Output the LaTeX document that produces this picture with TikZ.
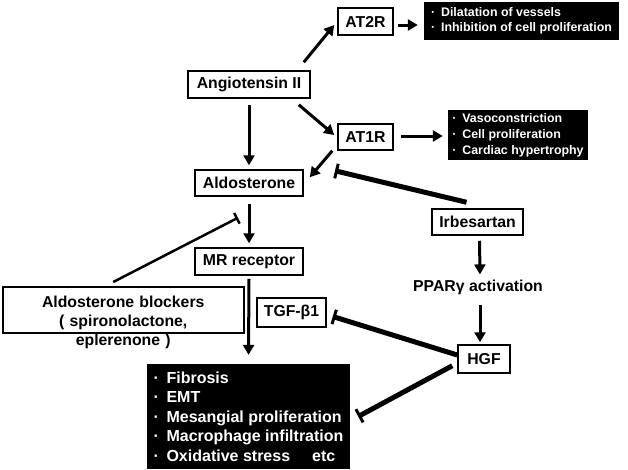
\documentclass[tikz,border=0pt]{standalone}
\usepackage{fontspec}
\setmainfont{Liberation Sans}
\usepackage{tikz}
\usetikzlibrary{arrows.meta, calc}

\newcommand{\blt}[1][10pt]{\makebox[#1][l]{\textperiodcentered}}

\begin{document}
\begin{tikzpicture}[x=1pt, y=-1pt,
	font=\fontsize{15.8}{19}\selectfont\bfseries,
	box/.style={draw, line width=1.5pt, inner sep=0pt},
	darkbox/.style={fill=black, text=white, inner sep=0pt, align=left, font=\fontsize{12.4}{15.5}\selectfont\bfseries},
	act/.style={line width=3pt, -{Triangle[length=10pt, width=11pt]}},
	inh/.style={line width=5pt, -{Bar[width=15pt, line width=3pt]}},
	inhthin/.style={line width=2.5pt, -{Bar[width=12pt, line width=2.5pt]}}]

	\useasboundingbox (0,0) rectangle (628,469);

	% framed boxes
	\node[box, minimum width=122pt, minimum height=27pt] (ang) at (249,84.5) {Angiotensin II};
	\node[box, minimum width=55pt, minimum height=27pt] (at2r) at (365.5,21.5) {AT2R};
	\node[box, minimum width=55pt, minimum height=26pt] (at1r) at (365.5,137) {AT1R};
	\node[box, minimum width=108pt, minimum height=26pt] (aldo) at (249,183) {Aldosterone};
	\node[box, minimum width=108pt, minimum height=27pt] (mr) at (249,261.5) {MR receptor};
	\node[box, minimum width=69pt, minimum height=29pt] (tgf) at (291.5,312.5) {TGF-β1};
	\node[box, minimum width=91pt, minimum height=26pt] (irb) at (477.5,222) {Irbesartan};
	\node[box, minimum width=52pt, minimum height=28pt] (hgf) at (484,359) {HGF};
	\node[box, anchor=north west, text width=241pt, align=center, text height=20.5pt, text depth=25.5pt] (blk) at (2,286)
		{Aldosterone blockers\\( spironolactone,\\eplerenone )};
	\node[inner sep=2pt] (ppar) at (478,287) {PPARγ activation};

	% black boxes
	\node[darkbox, minimum width=195pt, minimum height=38pt] (fx2) at (521.5,21)
		{\blt Dilatation of vessels\\\blt Inhibition of cell proliferation};
	\node[darkbox, font=\fontsize{12.4}{16}\selectfont\bfseries, minimum width=140pt, minimum height=50pt] (fx1) at (518,135)
		{\blt Vasoconstriction\\\blt Cell proliferation\\\blt Cardiac hypertrophy};
	\node[darkbox, font=\fontsize{16}{19.5}\selectfont\bfseries, minimum width=203pt, minimum height=105pt] (out) at (248.5,416.5)
		{\blt[13pt]Fibrosis\\\blt[13pt]EMT\\\blt[13pt]Mesangial proliferation\\\blt[13pt]Macrophage infiltration\\\blt[13pt]Oxidative stress\hspace{22pt}etc};

	% arrows
	\draw[act] ($(ang.north east)+(-7,-8)$) -- ($(at2r.west)+(-3,3.5)$);
	\draw[act] ($(ang.south east)+(-12,6)$) -- ($(at1r.west)+(-3,-2)$);
	\draw[act] ($(at2r.east)+(4,3.5)$) -- ($(fx2.west)+(-6,4)$);
	\draw[act] ($(at1r.east)+(7,-1)$) -- ($(fx1.west)+(-5,1)$);
	\draw[act] ($(ang.south)+(0,6)$) -- ($(aldo.north)+(0,-4)$);
	\draw[act] ($(aldo.south)+(0,7)$) -- ($(mr.north)+(0,-4)$);
	\draw[act] ($(mr.south)+(0,3)$) -- ($(out.north)+(0,-9)$);
	\draw[act] ($(at1r.south west)+(-5,0)$) -- ($(aldo.north east)+(6,8)$);
	\draw[act, shorten <=5pt, shorten >=3pt] ($(irb.south)+(2,0)$) -- ($(ppar.north)+(2,0)$);
	\draw[act, shorten <=8pt, shorten >=2pt] ($(ppar.south)+(2,0)$) -- ($(hgf.north)+(-4,0)$);

	% inhibitions
	\draw[inh] ($(irb.north)+(-11,-6)$) -- ($(at1r.south)+(-30.5,20)$);
	\draw[inhthin] ($(blk.north)+(-10,-4)$) -- ($(aldo.south)+(-11,21)$);
	\draw[inh] ($(hgf.west)+(0,-4)$) -- ($(tgf.east)+(6,4)$);
	\draw[inh] ($(hgf.south west)+(-5,-8)$) -- ($(out.east)+(8,0)$);

\end{tikzpicture}
\end{document}
